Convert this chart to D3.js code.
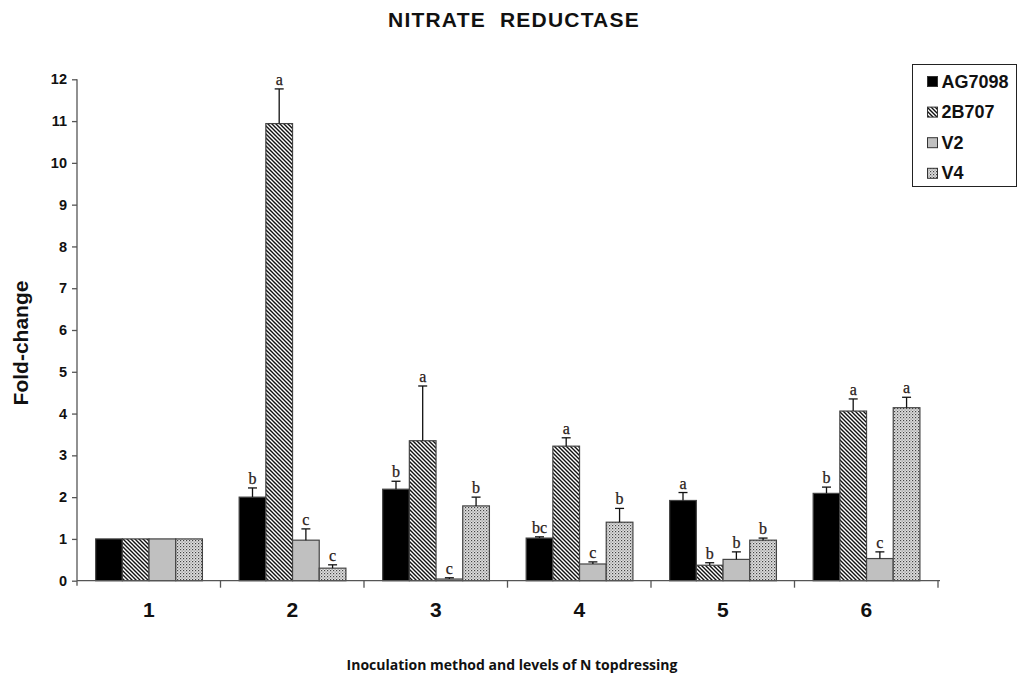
<!DOCTYPE html>
<html><head><meta charset="utf-8">
<script src="https://cdn.jsdelivr.net/npm/d3@7"></script>
<style>body{margin:0;background:#fff}svg{display:block}</style>
</head><body>
<svg id="c" width="1018" height="677"></svg>
<script>
const groups = ["1","2","3","4","5","6"];
const series = ["AG7098","2B707","V2","V4"];
const AG7098 = [1.0, 2.00, 2.19, 1.02, 1.92, 2.09];
const B2B707 = [1.0, 10.94, 3.35, 3.22, 0.37, 4.06];
const V2 =     [1.0, 0.97, 0.04, 0.40, 0.51, 0.53];
const V4 =     [1.0, 0.30, 1.79, 1.40, 0.97, 4.14];
const AG7098_err = [null, 2.22, 2.38, 1.05, 2.11, 2.24];
const B2B707_err = [null, 11.77, 4.66, 3.42, 0.43, 4.35];
const V2_err =     [null, 1.24, 0.07, 0.45, 0.69, 0.69];
const V4_err =     [null, 0.38, 2.00, 1.73, 1.02, 4.39];
const AG7098_lab = ["", "b", "b", "bc", "a", "b"];
const B2B707_lab = ["", "a", "a", "a", "b", "a"];
const V2_lab =     ["", "c", "c", "c", "b", "c"];
const V4_lab =     ["", "c", "b", "b", "b", "a"];
const yTicks = [0,1,2,3,4,5,6,7,8,9,10,11,12];

const vals = [AG7098, B2B707, V2, V4];
const errs = [AG7098_err, B2B707_err, V2_err, V4_err];
const labs = [AG7098_lab, B2B707_lab, V2_lab, V4_lab];
const SANS = "'Liberation Sans',Arial,sans-serif";

const svg = d3.select("#c");
const defs = svg.append("defs");
const hp = defs.append("pattern").attr("id","hatch").attr("patternUnits","userSpaceOnUse")
  .attr("width",4).attr("height",4);
hp.append("rect").attr("width",4).attr("height",4).attr("fill","#fff");
hp.append("path").attr("d","M-1,-1L5,5M-1,3L1,5M3,-1L5,1").attr("stroke","#111").attr("stroke-width",1.4);
const dp = defs.append("pattern").attr("id","dots").attr("patternUnits","userSpaceOnUse")
  .attr("width",3).attr("height",3);
dp.append("rect").attr("width",3).attr("height",3).attr("fill","#e0e0e0");
dp.append("rect").attr("width",1.2).attr("height",1.2).attr("fill","#444");
dp.append("rect").attr("x",1.5).attr("y",1.5).attr("width",1.2).attr("height",1.2).attr("fill","#888");

const fills = ["#000","url(#hatch)","#c0c0c0","url(#dots)"];

const x = d3.scaleBand().domain(groups).range([77, 938]).padding(0);
const xi = d3.scaleBand().domain(series).range([x.bandwidth()*0.13, x.bandwidth()*0.874]).padding(0);
const y = d3.scaleLinear().domain([0,12]).range([580.7, 79.3]);

// bars
groups.forEach((g, gi) => {
  const gx = x(g);
  series.forEach((s, si) => {
    const v = vals[si][gi];
    const bx = gx + xi(s);
    svg.append("rect").attr("x", bx).attr("y", y(v)).attr("width", xi.bandwidth())
      .attr("height", y(0)-y(v)).attr("fill", fills[si]).attr("stroke","#444").attr("stroke-width",1.2);
    const e = errs[si][gi];
    const cx = bx + xi.bandwidth()/2;
    if (e != null) {
      svg.append("line").attr("x1",cx).attr("x2",cx).attr("y1",y(v)).attr("y2",y(e)).attr("stroke","#111").attr("stroke-width",1.3);
      svg.append("line").attr("x1",cx-4.5).attr("x2",cx+4.5).attr("y1",y(e)).attr("y2",y(e)).attr("stroke","#111").attr("stroke-width",1.3);
    }
    const l = labs[si][gi];
    if (l) {
      svg.append("text").attr("x",cx).attr("y",y(e)-4).attr("text-anchor","middle")
        .attr("font-family","'Liberation Serif','Times New Roman',serif").attr("font-size",16)
        .attr("fill","#2a2018").attr("stroke","#2a2018").attr("stroke-width",0.25).text(l);
    }
  });
});

// y axis
const yAxis = svg.append("g").attr("transform","translate(77,0)")
  .call(d3.axisLeft(y).tickValues(yTicks).tickSize(5).tickPadding(5).tickFormat(d3.format("d")));
yAxis.select(".domain").attr("d", `M0,${y(12)}V${y(0)+5}`).attr("stroke","#555").attr("stroke-width",1.3);
yAxis.selectAll(".tick line").attr("stroke","#555").attr("stroke-width",1.3);
yAxis.selectAll("text").attr("font-family",SANS).attr("font-weight","bold")
  .attr("font-size",14.5).attr("fill","#111");

// x axis
const xAxis = svg.append("g").attr("transform",`translate(0,${y(0)})`);
xAxis.append("line").attr("x1",77).attr("x2",940).attr("y1",0).attr("y2",0).attr("stroke","#555").attr("stroke-width",1.3);
const bounds = groups.map(g => x(g)).concat([x(groups[groups.length-1]) + x.bandwidth()]);
xAxis.selectAll("line.tk").data(bounds.slice(1)).join("line").attr("class","tk")
  .attr("x1",d=>d).attr("x2",d=>d).attr("y1",0).attr("y2",7).attr("stroke","#555").attr("stroke-width",1.3);
xAxis.selectAll("text").data(groups).join("text")
  .attr("x", d => x(d) + x.bandwidth()/2).attr("y", 36).attr("text-anchor","middle")
  .attr("font-family",SANS).attr("font-weight","bold").attr("font-size",21)
  .attr("fill","#111").text(d=>d);

// titles
svg.append("text").attr("x",514).attr("y",27).attr("text-anchor","middle")
  .attr("font-family",SANS).attr("font-weight","bold").attr("font-size",21).attr("letter-spacing",1.2)
  .attr("fill","#111").attr("xml:space","preserve").text("NITRATE  REDUCTASE");
svg.append("text").attr("x",512).attr("y",670).attr("text-anchor","middle")
  .attr("font-family","'Open Sans','Liberation Sans',sans-serif").attr("font-weight","bold").attr("font-size",14)
  .attr("fill","#111").text("Inoculation method and levels of N topdressing");
svg.append("text").attr("transform","translate(28,343) rotate(-90)").attr("text-anchor","middle")
  .attr("font-family",SANS).attr("font-weight","bold").attr("font-size",21)
  .attr("fill","#111").text("Fold-change");

// legend
const lg = svg.append("g");
lg.append("rect").attr("x",912.5).attr("y",64.5).attr("width",104).attr("height",122)
  .attr("fill","#fff").attr("stroke","#222").attr("stroke-width",1);
series.forEach((s, si) => {
  const cy = 81.5 + si*30.6;
  lg.append("rect").attr("x",927.5).attr("y",cy-5).attr("width",10).attr("height",10)
    .attr("fill",fills[si]).attr("stroke","#333").attr("stroke-width",1);
  lg.append("text").attr("x",941.5).attr("y",cy+6)
    .attr("font-family",SANS).attr("font-weight","bold").attr("font-size",18)
    .attr("fill","#111").text(s);
});
</script>
</body></html>
